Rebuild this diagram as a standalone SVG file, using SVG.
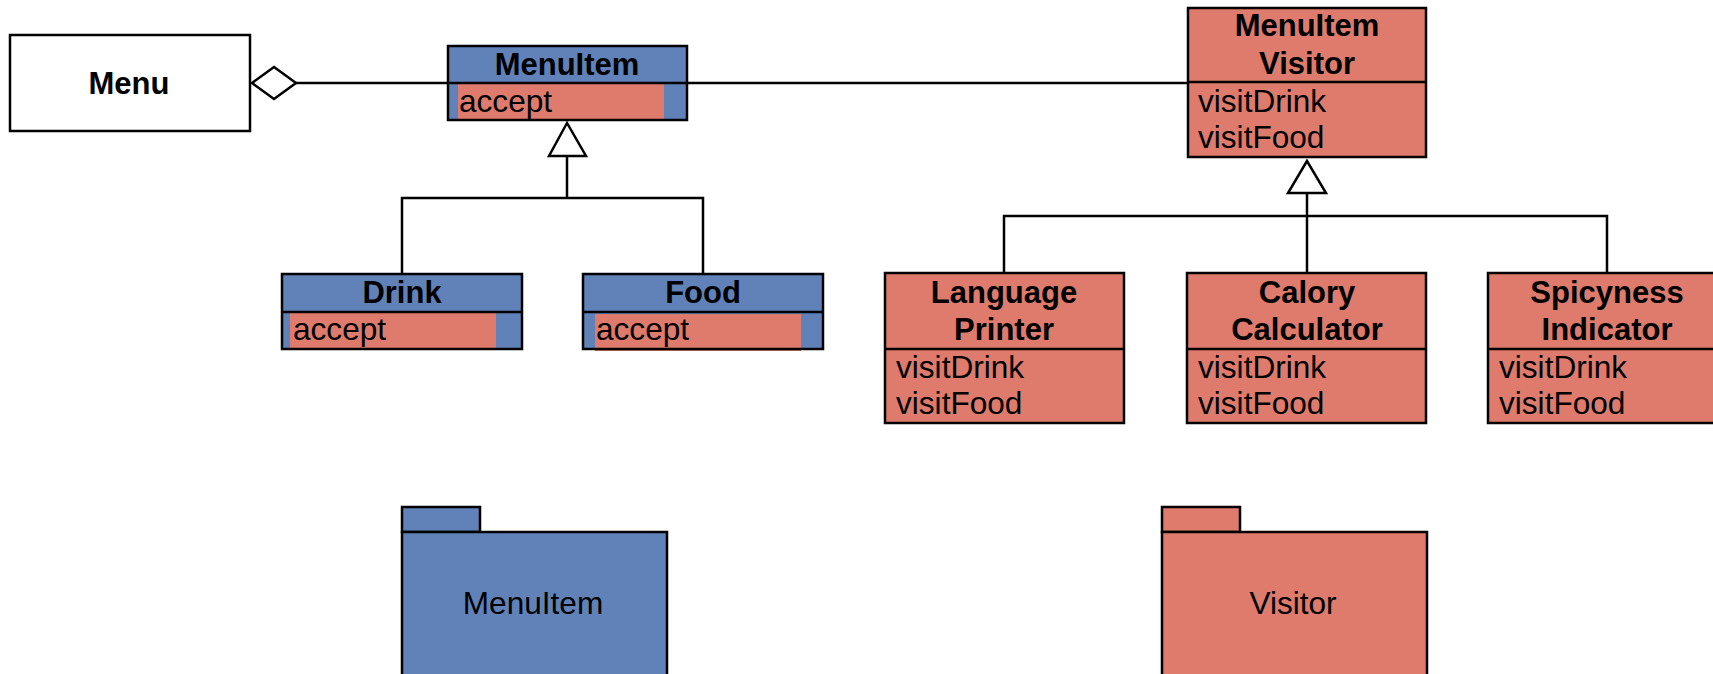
<svg xmlns="http://www.w3.org/2000/svg" width="1713" height="674" viewBox="0 0 1713 674">
<style>
.blue{fill:#6182B8}
.red{fill:#DE7B6C}
.box{fill:none;stroke:#000;stroke-width:2.5}
.ln{stroke:#000;stroke-width:2.5;fill:none}
.t{font-family:"Liberation Sans",Arial,sans-serif;font-size:31.6px;fill:#000}
.b{font-weight:bold;text-anchor:middle;font-size:31px}
.c{text-anchor:middle}
</style>
<rect width="1713" height="674" fill="#fff"/>
<g id="connectors">
<line class="ln" x1="296" y1="83" x2="1188" y2="83"/>
<polygon points="252,83 274,67 296,83 274,99" fill="#fff" stroke="#000" stroke-width="2.5"/>
<polyline class="ln" points="567,156 567,198"/>
<polyline class="ln" points="402,273 402,198 703,198 703,273"/>
<polygon points="567,123 549,156 586,156" fill="#fff" stroke="#000" stroke-width="2.5"/>
<polyline class="ln" points="1307,193 1307,273"/>
<polyline class="ln" points="1004,273 1004,216 1607,216 1607,273"/>
<polygon points="1307,161 1288,193 1326,193" fill="#fff" stroke="#000" stroke-width="2.5"/>
</g>
<g id="menu">
<rect x="10" y="35" width="240" height="96" fill="#fff" stroke="#000" stroke-width="2.5"/>
<text class="t b" x="129" y="94">Menu</text>
</g>
<g id="menuitem">
<rect class="blue" x="448" y="46" width="239" height="74"/>
<rect class="red" x="458" y="84" width="206" height="35"/>
<rect class="box" x="448" y="46" width="239" height="74"/>
<line class="ln" x1="448" y1="83" x2="687" y2="83"/>
<text class="t b" x="567" y="75">MenuItem</text>
<text class="t" x="459" y="112">accept</text>
</g>
<g id="drink">
<rect class="blue" x="282" y="274" width="240" height="75"/>
<rect class="red" x="290" y="312" width="206" height="36"/>
<rect class="box" x="282" y="274" width="240" height="75"/>
<line class="ln" x1="282" y1="312" x2="522" y2="312"/>
<text class="t b" x="402" y="303">Drink</text>
<text class="t" x="293" y="340">accept</text>
</g>
<g id="food">
<rect class="blue" x="583" y="274" width="240" height="75"/>
<rect class="red" x="595" y="314" width="206" height="37"/>
<rect class="box" x="583" y="274" width="240" height="75"/>
<line class="ln" x1="583" y1="312" x2="823" y2="312"/>
<text class="t b" x="703" y="303">Food</text>
<text class="t" x="596" y="340">accept</text>
</g>
<g id="menuitemvisitor">
<rect class="box" x="1188" y="8" width="238" height="149" style="fill:#DE7B6C"/>
<line class="ln" x1="1188" y1="82" x2="1426" y2="82"/>
<text class="t b" x="1307" y="36">MenuItem</text>
<text class="t b" x="1307" y="74">Visitor</text>
<text class="t" x="1198" y="112">visitDrink</text>
<text class="t" x="1198" y="148">visitFood</text>
</g>
<g id="languageprinter">
<rect class="box" x="885" y="273" width="239" height="150" style="fill:#DE7B6C"/>
<line class="ln" x1="885" y1="349" x2="1124" y2="349"/>
<text class="t b" x="1004" y="303">Language</text>
<text class="t b" x="1004" y="340">Printer</text>
<text class="t" x="896" y="378">visitDrink</text>
<text class="t" x="896" y="414">visitFood</text>
</g>
<g id="calorycalculator">
<rect class="box" x="1187" y="273" width="239" height="150" style="fill:#DE7B6C"/>
<line class="ln" x1="1187" y1="349" x2="1426" y2="349"/>
<text class="t b" x="1307" y="303">Calory</text>
<text class="t b" x="1307" y="340">Calculator</text>
<text class="t" x="1198" y="378">visitDrink</text>
<text class="t" x="1198" y="414">visitFood</text>
</g>
<g id="spicynessindicator">
<rect class="box" x="1488" y="273" width="239" height="150" style="fill:#DE7B6C"/>
<line class="ln" x1="1488" y1="349" x2="1727" y2="349"/>
<text class="t b" x="1607" y="303">Spicyness</text>
<text class="t b" x="1607" y="340">Indicator</text>
<text class="t" x="1499" y="378">visitDrink</text>
<text class="t" x="1499" y="414">visitFood</text>
</g>
<g id="pkg-menuitem">
<rect class="box" x="402" y="507" width="78" height="25" style="fill:#6182B8"/>
<rect class="box" x="402" y="532" width="265" height="160" style="fill:#6182B8"/>
<text class="t c" x="533" y="614">MenuItem</text>
</g>
<g id="pkg-visitor">
<rect class="box" x="1162" y="507" width="78" height="25" style="fill:#DE7B6C"/>
<rect class="box" x="1162" y="532" width="265" height="160" style="fill:#DE7B6C"/>
<text class="t c" x="1293" y="614">Visitor</text>
</g>
</svg>
